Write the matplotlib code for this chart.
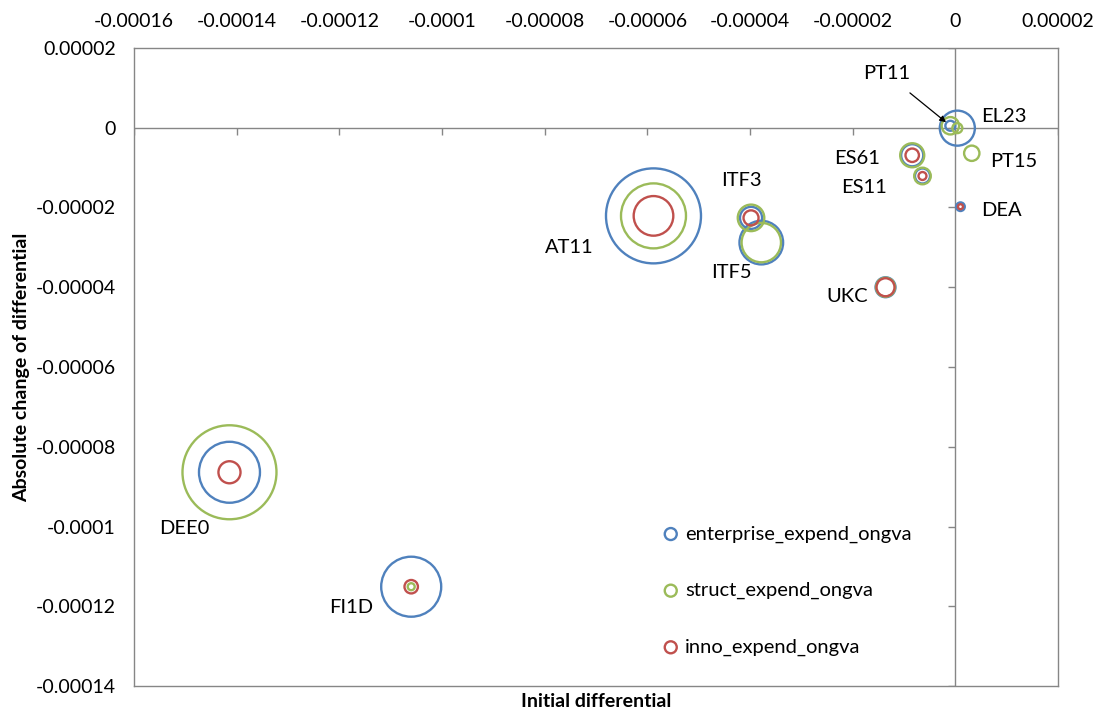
import matplotlib
matplotlib.use("Agg")
import matplotlib.pyplot as plt
import numpy as np

plt.rcParams['font.family'] = ['Lato', 'DejaVu Sans']

# region centres (initial differential, absolute change of differential)
regions = ["DEE0", "FI1D", "AT11", "ITF3", "ITF5", "UKC",
           "ES61", "ES11", "PT15", "DEA", "EL23", "PT11"]
x_init = [-1.414e-4, -1.060e-4, -5.88e-5, -3.98e-5, -3.78e-5, -1.36e-5,
          -8.4e-6, -6.4e-6, 3.2e-6, 1.0e-6, 3.9e-7, -9.7e-7]
y_change = [-8.64e-5, -1.151e-4, -2.21e-5, -2.26e-5, -2.88e-5, -4.0e-5,
            -6.9e-6, -1.21e-5, -6.4e-6, -1.98e-5, -1.0e-7, 5.0e-7]

# bubble sizes (relative, area-proportional); nan = no bubble
enterprise_size = [41.2, 39.9, 100.0, 5.4, 21.1, 4.4, 5.4, 2.5, np.nan, 0.82, 13.6, 1.1]
struct_size = [97.9, 0.54, 46.8, 7.8, 17.2, 4.0, 6.4, 3.05, 2.6, np.nan, 1.1, 3.35]
inno_size = [5.4, 2.0, 17.4, 2.5, np.nan, 3.6, 2.0, 0.7, np.nan, 0.28, np.nan, np.nan]

series_names = ["enterprise_expend_ongva", "struct_expend_ongva", "inno_expend_ongva"]
series_colors = ["#4F81BD", "#9BBB59", "#C0504D"]

xticks = [-0.00016, -0.00014, -0.00012, -0.0001, -0.00008, -0.00006,
          -0.00004, -0.00002, 0, 0.00002]
xtick_labels = ["-0.00016", "-0.00014", "-0.00012", "-0.0001", "-0.00008",
                "-0.00006", "-0.00004", "-0.00002", "0", "0.00002"]
yticks = [0.00002, 0, -0.00002, -0.00004, -0.00006, -0.00008, -0.0001,
          -0.00012, -0.00014]
ytick_labels = ["0.00002", "0", "-0.00002", "-0.00004", "-0.00006",
                "-0.00008", "-0.0001", "-0.00012", "-0.00014"]

# label offsets in pixels (dx, dy) from bubble centre
label_offsets = {"DEE0": (-45, -56), "FI1D": (-60, -21), "AT11": (-84, -32),
                 "ITF3": (-10, 37), "ITF5": (-30, -30), "UKC": (-38, -9),
                 "ES61": (-55, -3), "ES11": (-58, -12), "PT15": (42, -8),
                 "DEA": (41, -4), "EL23": (47, 12)}

axis_gray = "#868686"
px = 0.72  # points per pixel at dpi 100
max_radius_px = 47.5

fig = plt.figure(figsize=(11.03, 7.15), dpi=100)
ax = fig.add_axes([134 / 1103, 1 - 686 / 715, 924 / 1103, 638 / 715])

for sizes, color, name in zip([enterprise_size, struct_size, inno_size],
                              series_colors, series_names):
    sizes = np.array(sizes)
    radius = max_radius_px * np.sqrt(sizes / 100.0)
    s = (2 * radius * px) ** 2
    ax.scatter(x_init, y_change, s=s, facecolors="none", edgecolors=color,
               linewidths=1.7, label=name, zorder=3)

ax.set_xlim(-0.00016, 0.00002)
ax.set_ylim(-0.00014, 0.00002)

# outer frame
for sp in ax.spines.values():
    sp.set_color(axis_gray)
    sp.set_linewidth(1.0)

ax.set_xticks(xticks)
ax.set_xticklabels(xtick_labels)
ax.set_yticks(yticks)
ax.set_yticklabels(ytick_labels)
ax.xaxis.tick_top()
ax.tick_params(axis="both", length=0, labelsize=14, pad=13, colors="black")

# axes crossing at zero with tick marks
ax.axhline(0, color=axis_gray, lw=1.0, zorder=1)
ax.axvline(0, color=axis_gray, lw=1.0, zorder=1)
ax.plot(xticks, np.zeros(len(xticks)), linestyle="none", marker=3,
        markersize=5, color=axis_gray, markeredgewidth=1.0, zorder=1)
ax.plot(np.zeros(len(yticks)), yticks, linestyle="none", marker=0,
        markersize=5, color=axis_gray, markeredgewidth=1.0, zorder=1)

ax.xaxis.set_label_position("bottom")
ax.set_xlabel("Initial differential", fontsize=14, fontweight="bold", labelpad=5)
ax.set_ylabel("Absolute change of differential", fontsize=14,
              fontweight="bold", labelpad=4)

for name, xv, yv in zip(regions, x_init, y_change):
    if name in label_offsets:
        dx, dy = label_offsets[name]
        ax.annotate(name, (xv, yv), xytext=(dx * px, dy * px),
                    textcoords="offset points", ha="center", va="center",
                    fontsize=14.5)

pt11 = regions.index("PT11")
ax.annotate("PT11", (x_init[pt11], y_change[pt11]), xytext=(-64 * px, 52 * px),
            textcoords="offset points", ha="center", va="center", fontsize=14.5,
            arrowprops=dict(arrowstyle="-|>", color="black", lw=0.9,
                            shrinkA=9, shrinkB=4, mutation_scale=9))

leg = ax.legend(loc="upper left", bbox_to_anchor=(0.570, 0.252), frameon=False,
                fontsize=14.5, labelspacing=1.95, handlelength=1.0,
                handletextpad=0.2, borderpad=0.0, borderaxespad=0.0)
for h in leg.legend_handles:
    h.set_sizes([(12 * px) ** 2])
    h.set_linewidth(1.7)

fig.savefig("out.png", dpi=100)
